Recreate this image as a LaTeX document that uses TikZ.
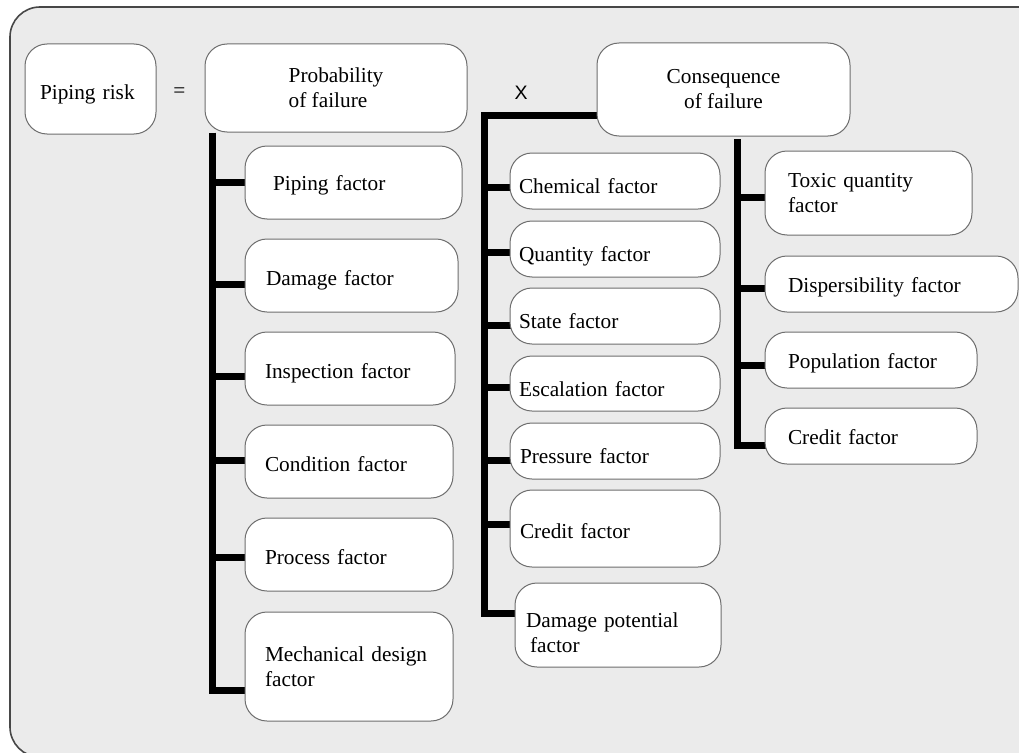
\documentclass[tikz,border=0pt]{standalone}
\usepackage{fontspec}
\setmainfont{Liberation Serif}
\newfontfamily\xsans{Liberation Sans}
\usetikzlibrary{calc}
\definecolor{bgray}{HTML}{EBEBEB}
\definecolor{edge}{HTML}{6E6E6E}
\definecolor{framec}{HTML}{474747}
\pgfdeclarelayer{back}
\pgfdeclarelayer{lines}
\pgfsetlayers{back,lines,main}
\begin{document}
\begin{tikzpicture}[x=1pt,y=-1pt,
  box/.style={draw=edge, fill=white, line width=1pt, rounded corners=22pt,
    inner ysep=0pt, align=left, font=\fontsize{21.3}{25}\selectfont},
  ta/.style={text height=20.5pt, text depth=4.5pt},
  tb/.style={text height=24.5pt, text depth=4.5pt},
  tc/.style={text height=29.5pt, text depth=4.5pt},
  bus/.style={line width=7pt, draw=black},
  sym/.style={inner sep=0pt}
]
\useasboundingbox (0,0) rectangle (1019,752);

% top row
\node[box, tb, inner xsep=15pt, text width=101pt, minimum height=90pt] (risk) at (90.5,89) {Piping risk};
\node[sym, font=\fontsize{21.3}{25}\selectfont] (eq) at (179.5,93) {=};
\node[box, minimum width=262pt, minimum height=88pt] (prob) at (336,88) {Probability\\of failure};
\node[sym, font=\xsans\fontsize{19.5}{22}\selectfont] (x) at (521,93) {X};
\node[box, align=center, minimum width=253pt, minimum height=93pt] (cons) at (723.5,89.5) {Consequence\\of failure};

% left column
\node[box, ta, inner xsep=28pt, text width=161pt, minimum height=73pt] (pip) at (353.5,182.5) {Piping factor};
\node[box, tb, inner xsep=21pt, text width=171pt, minimum height=73pt] (dam) at (351.5,275.5) {Damage factor};
\node[box, tb, inner xsep=20pt, text width=170pt, minimum height=73pt] (ins) at (350,368.5) {Inspection factor};
\node[box, tb, inner xsep=20pt, text width=168pt, minimum height=73pt] (con) at (349,461.5) {Condition factor};
\node[box, tb, inner xsep=20pt, text width=168pt, minimum height=73pt] (pro) at (349,554.5) {Process factor};
\node[box, inner xsep=20pt, text width=168pt, minimum height=109pt] (mec) at (349,666.5) {Mechanical design\\factor};

% middle column
\node[box, tc, inner xsep=9pt, text width=192pt, minimum height=56pt] (che) at (615,181) {Chemical factor};
\node[box, tc, inner xsep=9pt, text width=192pt, minimum height=56pt] (qua) at (615,249) {Quantity factor};
\node[box, tc, inner xsep=9pt, text width=192pt, minimum height=56pt] (sta) at (615,316) {State factor};
\node[box, tc, inner xsep=9pt, text width=192pt, minimum height=55pt] (esc) at (615,383.5) {Escalation factor};
\node[box, tc, inner xsep=10pt, text width=190pt, minimum height=56pt] (pre) at (615,451) {Pressure factor};
\node[box, tb, inner xsep=10pt, text width=190pt, minimum height=77pt] (cre) at (615,528.5) {Credit factor};
\node[box, inner xsep=11pt, text width=184pt, minimum height=84pt] (dpo) at (618,625) {\rule{0pt}{30pt}Damage potential\\\hspace*{4pt}factor};

% right column
\node[box, inner xsep=23pt, text width=161pt, minimum height=84pt] (tox) at (868.5,193) {Toxic quantity\\factor};
\node[box, ta, inner xsep=23pt, text width=207pt, minimum height=56pt] (dis) at (891.5,284) {Dispersibility factor};
\node[box, ta, inner xsep=23pt, text width=166pt, minimum height=56pt] (pop) at (871,360) {Population factor};
\node[box, ta, inner xsep=23pt, text width=166pt, minimum height=56pt] (cr2) at (871,436) {Credit factor};

\coordinate (lc) at (212,690);
\coordinate (mc) at (484,613);
\coordinate (rc) at (737,445);

\begin{pgfonlayer}{lines}
% left bus
\draw[bus] (prob.south -| lc) -- (lc) -- ($(mec.west |- lc)+(6,0)$);
\draw[bus] (lc |- 0,182) -- ($(pip.west |- 0,182)+(6,0)$);
\draw[bus] (lc |- 0,284) -- ($(dam.west |- 0,284)+(6,0)$);
\draw[bus] (lc |- 0,376) -- ($(ins.west |- 0,376)+(6,0)$);
\draw[bus] (lc |- 0,460) -- ($(con.west |- 0,460)+(6,0)$);
\draw[bus] (lc |- 0,557) -- ($(pro.west |- 0,557)+(6,0)$);
% middle bus
\draw[bus] ($(cons.west |- 0,115)+(6,0)$) -- (mc |- 0,115) -- (mc) -- ($(dpo.west |- mc)+(6,0)$);
\draw[bus] (mc |- 0,187) -- ($(che.west |- 0,187)+(6,0)$);
\draw[bus] (mc |- 0,252) -- ($(qua.west |- 0,252)+(6,0)$);
\draw[bus] (mc |- 0,325) -- ($(sta.west |- 0,325)+(6,0)$);
\draw[bus] (mc |- 0,387) -- ($(esc.west |- 0,387)+(6,0)$);
\draw[bus] (mc |- 0,460) -- ($(pre.west |- 0,460)+(6,0)$);
\draw[bus] (mc |- 0,524) -- ($(cre.west |- 0,524)+(6,0)$);
% right bus
\draw[bus] (rc |- 0,139) -- (rc) -- ($(cr2.west |- rc)+(6,0)$);
\draw[bus] (rc |- 0,197) -- ($(tox.west |- 0,197)+(6,0)$);
\draw[bus] (rc |- 0,288) -- ($(dis.west |- 0,288)+(6,0)$);
\draw[bus] (rc |- 0,365) -- ($(pop.west |- 0,365)+(6,0)$);
\end{pgfonlayer}

\begin{pgfonlayer}{back}
\begin{scope}
\clip (0,0) rectangle (1019,752);
\fill[bgray, rounded corners=30pt] (1100,7) -- (10,7) -- (10,757) -- (1100,757) -- cycle;
\draw[framec, line width=1.6pt, rounded corners=30pt]
  (1100,7) -- (10,7) -- (10,757) -- (1100,757);
\end{scope}
\end{pgfonlayer}
\end{tikzpicture}
\end{document}
